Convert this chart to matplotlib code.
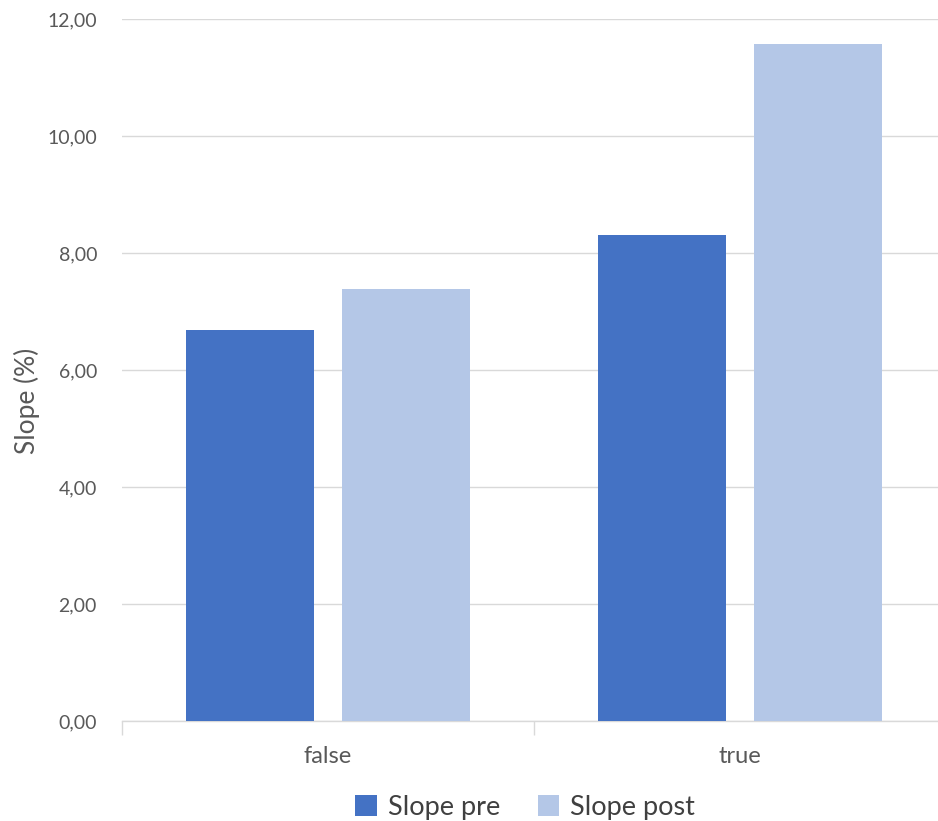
import matplotlib.pyplot as plt
import numpy as np
from matplotlib.ticker import FuncFormatter

categories = ['false', 'true']
slope_pre = [6.68, 8.30]
slope_post = [7.38, 11.58]
y_ticks = [0, 2, 4, 6, 8, 10, 12]

plt.rcParams['font.family'] = ['Lato', 'DejaVu Sans']

fig = plt.figure(figsize=(9.38, 8.21), dpi=100)
ax = fig.add_axes([122 / 938, 100 / 821, 816 / 938, 702 / 821])

x = np.arange(len(categories))
w = 0.311
off = 0.189
ax.bar(x - off, slope_pre, w, color='#4472c4', label='Slope pre', zorder=3)
ax.bar(x + off, slope_post, w, color='#b4c7e7', label='Slope post', zorder=3)

ax.set_xlim(-0.5, 1.48)
ax.set_ylim(0, 12)
ax.set_yticks(y_ticks)
ax.yaxis.set_major_formatter(FuncFormatter(lambda v, p: f'{v:.2f}'.replace('.', ',')))
ax.grid(axis='y', color='#d9d9d9', linewidth=1, zorder=0)

ax.set_xticks(x)
ax.set_xticks([-0.5, 0.5], minor=True)
ax.set_xticklabels(categories, fontsize=17, color='#595959')
ax.tick_params(axis='x', which='major', length=0, pad=18)
ax.tick_params(axis='x', which='minor', length=10, color='#d9d9d9', width=1)
ax.tick_params(axis='y', length=0, pad=18, labelsize=14, labelcolor='#595959')

for s in ['top', 'right', 'left']:
    ax.spines[s].set_visible(False)
ax.spines['bottom'].set_color('#d9d9d9')
ax.spines['bottom'].set_linewidth(1)

ax.set_ylabel('Slope (%)', fontsize=19, color='#595959')
ax.yaxis.set_label_coords(-0.101, 0.456)

ax.legend(loc='center', bbox_to_anchor=(0.494, -0.123),
          ncol=2, frameon=False, fontsize=19.5, labelcolor='#404040',
          handlelength=0.8, handleheight=0.8, handletextpad=0.4, columnspacing=1.4)

fig.savefig('out.png', dpi=100)
